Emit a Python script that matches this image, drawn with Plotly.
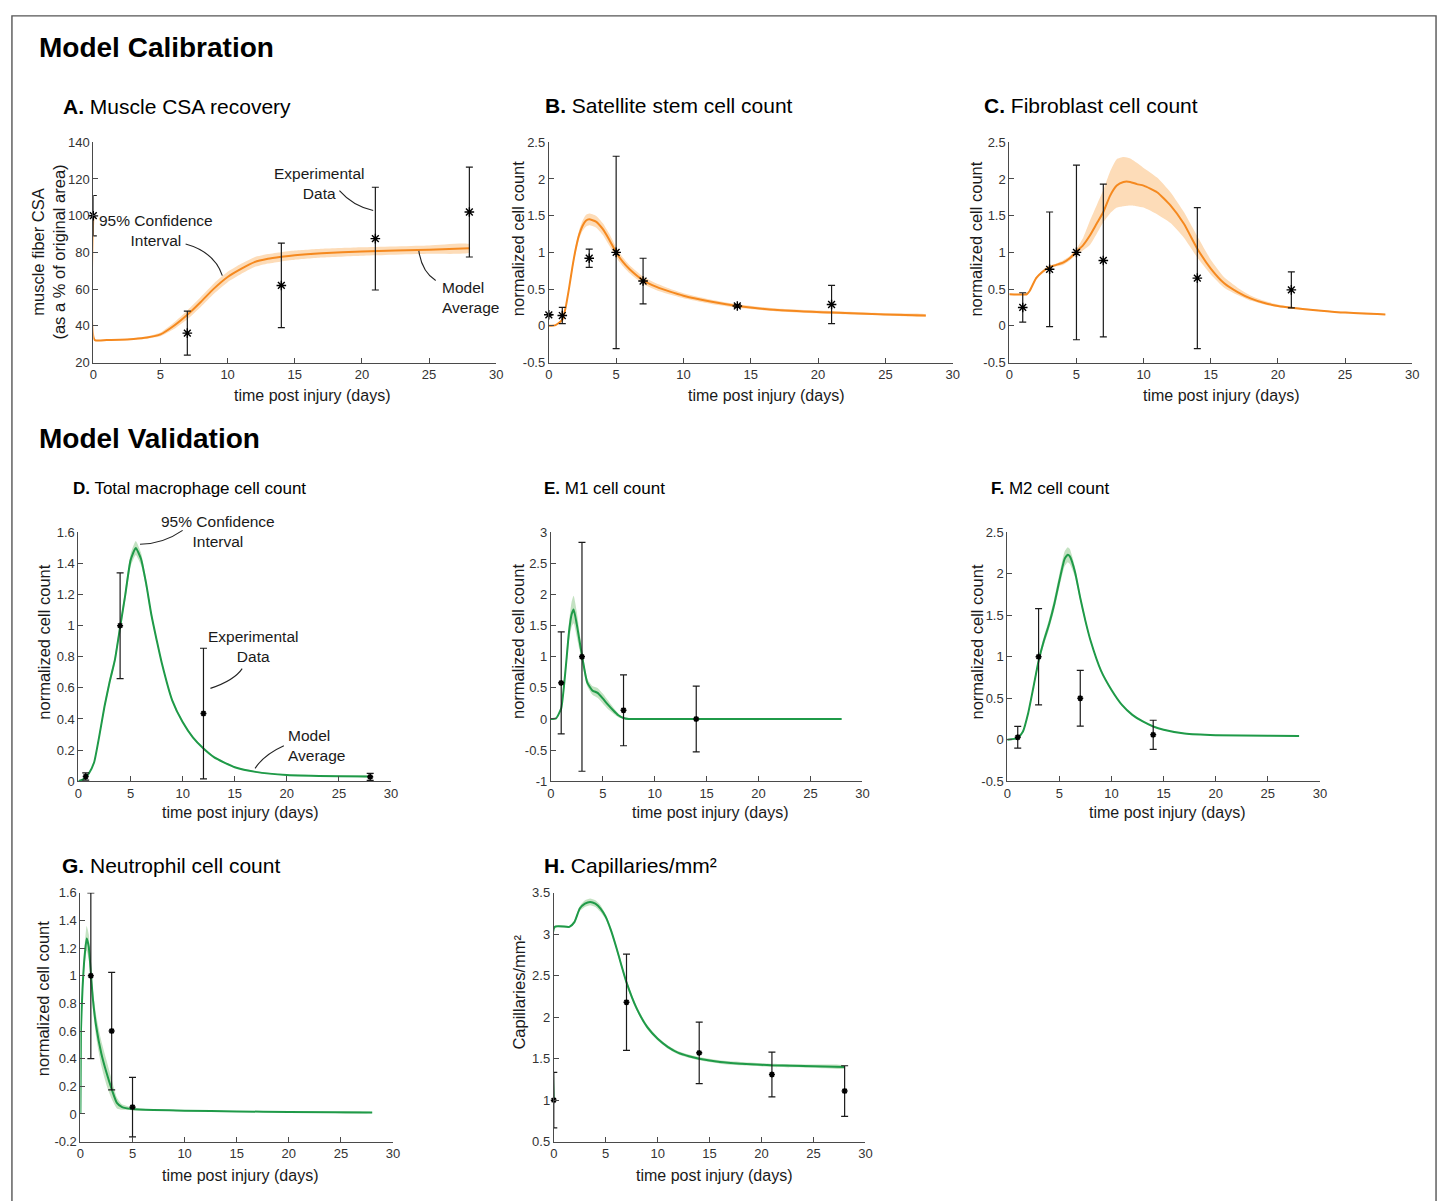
import plotly.graph_objects as go

# ======================= DATA =======================
x_ticks = [0, 5, 10, 15, 20, 25, 30]

# ---- A. Muscle CSA recovery ----
tA = [0, 0.1, 1, 2, 3, 4, 5, 6, 7, 8, 9, 10, 11, 12, 13, 14, 15, 17, 20, 25, 28]
yA = [100, 32.3, 32.3, 32.4, 32.8, 33.6, 35.3, 40, 46, 53, 60.4, 66.6, 71, 74.7, 76.5, 77.6, 78.5, 79.6, 80.5, 81.5, 82.2]
ciA = [0.3, 0.3, 0.3, 0.3, 0.4, 0.6, 1.0, 1.8, 2.4, 2.7, 2.8, 2.8, 2.8, 2.7, 2.6, 2.5, 2.5, 2.4, 2.3, 2.3, 2.3]
dA_t = [0, 7, 14, 21, 28]
dA_y = [100, 36, 62, 87.5, 102]
dA_e = [11, 12, 23, 28, 24.5]
yA_ticks = [20, 40, 60, 80, 100, 120, 140]

# ---- B. Satellite stem cell count ----
tB = [0, 0.5, 1, 1.25, 1.5, 1.75, 2, 2.25, 2.5, 2.75, 3, 3.5, 4, 4.5, 5, 5.5, 6, 7, 8, 9, 10, 12, 14, 17, 21, 25, 28]
yB = [0.0, 0.01, 0.08, 0.25, 0.51, 0.8, 1.05, 1.24, 1.36, 1.43, 1.45, 1.42, 1.32, 1.17, 1.0, 0.87, 0.77, 0.62, 0.53, 0.465, 0.41, 0.33, 0.27, 0.215, 0.18, 0.155, 0.14]
ciB = [0.005, 0.005, 0.01, 0.02, 0.03, 0.04, 0.05, 0.06, 0.07, 0.08, 0.08, 0.08, 0.08, 0.08, 0.07, 0.06, 0.055, 0.05, 0.045, 0.04, 0.035, 0.03, 0.025, 0.02, 0.02, 0.015, 0.015]
dB_t = [0, 1, 3, 5, 7, 14, 21]
dB_y = [0.15, 0.14, 0.92, 1.0, 0.61, 0.27, 0.29]
dB_e = [0.005, 0.11, 0.125, 1.31, 0.31, 0.02, 0.26]
yB_ticks = [-0.5, 0, 0.5, 1, 1.5, 2, 2.5]

# ---- C. Fibroblast cell count ----
tC = [0, 1.3, 1.5, 2, 2.5, 3, 3.5, 4, 4.5, 5, 5.5, 6, 6.5, 7, 7.5, 8, 8.5, 9, 9.5, 10, 11, 12, 13, 14, 15, 16, 17, 18, 19, 20, 21, 23, 25, 28]
yC = [0.43, 0.43, 0.47, 0.65, 0.74, 0.80, 0.83, 0.86, 0.92, 1.01, 1.10, 1.23, 1.39, 1.55, 1.77, 1.91, 1.96, 1.96, 1.93, 1.91, 1.82, 1.64, 1.39, 1.05, 0.78, 0.58, 0.46, 0.37, 0.31, 0.27, 0.245, 0.21, 0.18, 0.155]
hiC = [0.44, 0.44, 0.48, 0.67, 0.76, 0.82, 0.85, 0.89, 0.95, 1.05, 1.20, 1.43, 1.64, 1.85, 2.10, 2.27, 2.30, 2.28, 2.22, 2.15, 2.02, 1.82, 1.55, 1.22, 0.90, 0.66, 0.52, 0.41, 0.34, 0.29, 0.26, 0.22, 0.19, 0.16]
loC = [0.42, 0.42, 0.46, 0.63, 0.72, 0.78, 0.81, 0.83, 0.89, 0.97, 1.03, 1.10, 1.25, 1.41, 1.53, 1.61, 1.63, 1.64, 1.63, 1.61, 1.52, 1.40, 1.20, 0.93, 0.70, 0.52, 0.42, 0.34, 0.29, 0.255, 0.235, 0.20, 0.17, 0.15]
dC_t = [1, 3, 5, 7, 14, 21]
dC_y = [0.25, 0.77, 1.0, 0.89, 0.65, 0.49]
dC_e = [0.20, 0.78, 1.19, 1.04, 0.96, 0.245]
yC_ticks = [-0.5, 0, 0.5, 1, 1.5, 2, 2.5]

# ---- D. Total macrophage cell count ----
tD = [0, 0.5, 1, 1.5, 2, 2.5, 3, 3.5, 4, 4.5, 5, 5.5, 6, 6.5, 7, 7.5, 8, 9, 10, 11, 12, 13, 14, 15, 17, 20, 25, 28]
yD = [0, 0.013, 0.05, 0.12, 0.29, 0.48, 0.64, 0.78, 0.99, 1.2, 1.42, 1.50, 1.43, 1.27, 1.07, 0.91, 0.76, 0.52, 0.38, 0.28, 0.21, 0.155, 0.12, 0.09, 0.06, 0.04, 0.032, 0.03]
ciD = [0.002, 0.003, 0.005, 0.008, 0.015, 0.02, 0.025, 0.025, 0.03, 0.035, 0.04, 0.045, 0.04, 0.03, 0.02, 0.015, 0.012, 0.01, 0.008, 0.007, 0.006, 0.005, 0.005, 0.004, 0.004, 0.004, 0.004, 0.004]
dD_t = [0.7, 4, 12, 28]
dD_y = [0.03, 1.0, 0.435, 0.028]
dD_e = [0.023, 0.34, 0.42, 0.022]
yD_ticks = [0, 0.2, 0.4, 0.6, 0.8, 1, 1.2, 1.4, 1.6]

# ---- E. M1 cell count ----
tE = [0, 0.5, 1, 1.25, 1.5, 1.75, 2, 2.2, 2.5, 2.75, 3, 3.5, 4, 4.5, 5, 5.5, 6, 6.5, 7, 7.5, 10, 14, 20, 28]
yE = [0, 0.01, 0.17, 0.5, 0.94, 1.4, 1.68, 1.76, 1.52, 1.27, 1.02, 0.59, 0.46, 0.42, 0.33, 0.23, 0.14, 0.06, 0.016, 0.0, 0.0, 0.0, 0.0, 0.0]
ciE = [0, 0.005, 0.02, 0.06, 0.1, 0.15, 0.2, 0.22, 0.2, 0.15, 0.1, 0.06, 0.07, 0.08, 0.08, 0.07, 0.05, 0.03, 0.01, 0.005, 0.003, 0.003, 0.003, 0.003]
dE_t = [1, 3, 7, 14]
dE_y = [0.58, 1.0, 0.14, 0.0]
dE_e = [0.82, 1.84, 0.57, 0.53]
yE_ticks = [-1, -0.5, 0, 0.5, 1, 1.5, 2, 2.5, 3]

# ---- F. M2 cell count ----
tF = [0, 1, 1.5, 2, 2.5, 3, 3.5, 4, 4.5, 5, 5.5, 5.8, 6, 6.5, 7, 7.5, 8, 9, 10, 11, 12, 13, 14, 15, 17, 20, 25, 28]
yF = [0, 0.02, 0.10, 0.32, 0.63, 0.95, 1.19, 1.39, 1.63, 1.92, 2.18, 2.23, 2.21, 2.02, 1.71, 1.43, 1.19, 0.83, 0.60, 0.42, 0.30, 0.22, 0.16, 0.12, 0.075, 0.055, 0.048, 0.045]
ciF = [0, 0.005, 0.01, 0.02, 0.03, 0.04, 0.05, 0.06, 0.07, 0.08, 0.09, 0.09, 0.09, 0.06, 0.04, 0.03, 0.02, 0.015, 0.012, 0.01, 0.008, 0.007, 0.006, 0.005, 0.005, 0.004, 0.004, 0.004]
dF_t = [1, 3, 7, 14]
dF_y = [0.03, 1.0, 0.5, 0.06]
dF_e = [0.13, 0.58, 0.335, 0.175]
yF_ticks = [-0.5, 0, 0.5, 1, 1.5, 2, 2.5]

# ---- G. Neutrophil cell count ----
tG = [0, 0.05, 0.2, 0.4, 0.6, 0.8, 1, 1.2, 1.5, 2, 2.5, 3, 3.5, 4, 5, 7, 10, 15, 20, 28]
yG = [0, 0.6, 0.9, 1.14, 1.27, 1.21, 1.02, 0.83, 0.64, 0.44, 0.30, 0.18, 0.08, 0.05, 0.036, 0.029, 0.024, 0.019, 0.014, 0.01]
ciG = [0, 0.03, 0.05, 0.07, 0.09, 0.09, 0.07, 0.07, 0.08, 0.09, 0.09, 0.07, 0.04, 0.02, 0.01, 0.005, 0.004, 0.003, 0.003, 0.003]
dG_t = [1, 3, 5]
dG_y = [1.0, 0.6, 0.05]
dG_e = [0.6, 0.425, 0.215]
yG_ticks = [-0.2, 0, 0.2, 0.4, 0.6, 0.8, 1, 1.2, 1.4, 1.6]

# ---- H. Capillaries/mm² ----
tH = [0, 0.1, 1.5, 2, 2.5, 3, 3.5, 4, 4.5, 5, 5.5, 6, 6.5, 7, 8, 9, 10, 11, 12, 13, 14, 16, 18, 21, 25, 28]
yH = [1.0, 3.09, 3.09, 3.15, 3.31, 3.37, 3.39, 3.37, 3.31, 3.21, 3.05, 2.85, 2.63, 2.42, 2.10, 1.88, 1.74, 1.64, 1.57, 1.53, 1.50, 1.46, 1.44, 1.42, 1.41, 1.40]
ciH = [0, 0.01, 0.01, 0.02, 0.03, 0.04, 0.04, 0.04, 0.04, 0.03, 0.03, 0.03, 0.03, 0.03, 0.025, 0.025, 0.02, 0.02, 0.02, 0.02, 0.02, 0.02, 0.02, 0.02, 0.02, 0.02]
dH_t = [0, 7, 14, 21, 28]
dH_y = [1.0, 2.18, 1.57, 1.31, 1.11]
dH_e = [0.335, 0.58, 0.37, 0.27, 0.305]
yH_ticks = [0.5, 1, 1.5, 2, 2.5, 3, 3.5]

# ======================= STYLE / LAYOUT =======================
W, H = 1448, 1201
FONT = "Liberation Sans, Arial, Helvetica, sans-serif"
ORANGE, ORANGE_BAND = "#F5891F", "#FDDCB8"
GREEN, GREEN_BAND = "#1F9A48", "#C4E2C2"
AX = "#4a4a4a"
TXT = "#1a1a1a"


def fx(p):
    return p / W


def fy(p):
    return 1 - p / H


def lohi(y, ci):
    return [a - b for a, b in zip(y, ci)], [a + b for a, b in zip(y, ci)]


panels = [
    dict(title="<b>A.</b> Muscle CSA recovery", tsize=21, tpos=(57, 101), dom=(90, 496, 137, 360),
         t=tA, y=yA, band=lohi(yA, ciA), dt=dA_t, dy=dA_y, de=dA_e, yt=yA_ticks,
         c=ORANGE, cb=ORANGE_BAND, ytitle="muscle fiber CSA<br>(as a % of original area)",
         ytpos=(45, 248), xtpos=(311, 393), big=True),
    dict(title="<b>B.</b> Satellite stem cell count", tsize=21, tpos=(543, 100), dom=(549, 956, 137, 360),
         t=tB, y=yB, band=lohi(yB, ciB), dt=dB_t, dy=dB_y, de=dB_e, yt=yB_ticks,
         c=ORANGE, cb=ORANGE_BAND, ytitle="normalized cell count",
         ytpos=(518, 235), xtpos=(768, 393), big=True),
    dict(title="<b>C.</b> Fibroblast cell count", tsize=21, tpos=(985, 100), dom=(1013, 1419, 137, 360),
         t=tC, y=yC, band=(loC, hiC), dt=dC_t, dy=dC_y, de=dC_e, yt=yC_ticks,
         c=ORANGE, cb=ORANGE_BAND, ytitle="normalized cell count",
         ytpos=(980, 235), xtpos=(1227, 393), big=True),
    dict(title="<b>D.</b> Total macrophage cell count", tsize=17, tpos=(68, 488), dom=(75, 390, 532, 784),
         t=tD, y=yD, band=lohi(yD, ciD), dt=dD_t, dy=dD_y, de=dD_e, yt=yD_ticks,
         c=GREEN, cb=GREEN_BAND, ytitle="normalized cell count",
         ytpos=(40, 643), xtpos=(238, 816), big=False),
    dict(title="<b>E.</b> M1 cell count", tsize=17, tpos=(542, 488), dom=(551, 865, 532, 784),
         t=tE, y=yE, band=lohi(yE, ciE), dt=dE_t, dy=dE_y, de=dE_e, yt=yE_ticks,
         c=GREEN, cb=GREEN_BAND, ytitle="normalized cell count",
         ytpos=(518, 643), xtpos=(712, 816), big=False),
    dict(title="<b>F.</b> M2 cell count", tsize=17, tpos=(993, 488), dom=(1011, 1326, 532, 784),
         t=tF, y=yF, band=lohi(yF, ciF), dt=dF_t, dy=dF_y, de=dF_e, yt=yF_ticks,
         c=GREEN, cb=GREEN_BAND, ytitle="normalized cell count",
         ytpos=(980, 643), xtpos=(1172, 816), big=False),
    dict(title="<b>G.</b> Neutrophil cell count", tsize=21, tpos=(56, 869), dom=(77, 392, 897, 1149),
         t=tG, y=yG, band=lohi(yG, ciG), dt=dG_t, dy=dG_y, de=dG_e, yt=yG_ticks,
         c=GREEN, cb=GREEN_BAND, ytitle="normalized cell count",
         ytpos=(40, 1004), xtpos=(238, 1183), big=False),
    dict(title="<b>H.</b> Capillaries/mm²", tsize=21, tpos=(542, 869), dom=(554, 868, 897, 1149),
         t=tH, y=yH, band=lohi(yH, ciH), dt=dH_t, dy=dH_y, de=dH_e, yt=yH_ticks,
         c=GREEN, cb=GREEN_BAND, ytitle="Capillaries/mm²",
         ytpos=(518, 998), xtpos=(716, 1183), big=False),
]

fig = go.Figure()
annotations = []
shapes = []
layout_axes = {}

for i, p in enumerate(panels, start=1):
    xa = "x" if i == 1 else f"x{i}"
    ya = "y" if i == 1 else f"y{i}"
    lo, hi = p["band"]
    # confidence band
    fig.add_trace(go.Scatter(x=p["t"] + p["t"][::-1], y=hi + lo[::-1], fill="toself",
                             fillcolor=p["cb"], line=dict(width=0, shape="spline", smoothing=0.5),
                             mode="lines", xaxis=xa, yaxis=ya, showlegend=False, hoverinfo="skip"))
    # model average
    fig.add_trace(go.Scatter(x=p["t"], y=p["y"], mode="lines",
                             line=dict(color=p["c"], width=2, shape="spline", smoothing=0.5),
                             xaxis=xa, yaxis=ya, showlegend=False, hoverinfo="skip"))
    # experimental data
    fig.add_trace(go.Scatter(x=p["dt"], y=p["dy"], mode="markers",
                             marker=dict(symbol="asterisk-open", size=8 if p["big"] else 5, color="black",
                                         line=dict(width=1.4 if p["big"] else 1.6, color="black")),
                             error_y=dict(type="data", array=p["de"], symmetric=True, color="#1a1a1a",
                                          thickness=1.2, width=3.5),
                             cliponaxis=False, xaxis=xa, yaxis=ya, showlegend=False, hoverinfo="skip"))

    x0, x1, y0, y1 = p["dom"]
    common = dict(showline=True, linecolor=AX, linewidth=1, ticks="inside", ticklen=5, tickwidth=1,
                  tickcolor=AX, showgrid=False, zeroline=False, mirror=False, fixedrange=True,
                  tickfont=dict(family=FONT, size=13, color="#333333"))
    yt = p["yt"]
    layout_axes["xaxis" if i == 1 else f"xaxis{i}"] = dict(
        domain=[fx(x0), fx(x1)], anchor=ya, range=[0, 30], tickvals=x_ticks,
        ticktext=[f"{v:g}" for v in x_ticks], **common)
    layout_axes["yaxis" if i == 1 else f"yaxis{i}"] = dict(
        domain=[fy(y1), fy(y0)], anchor=xa, range=[yt[0], yt[-1]], tickvals=yt,
        ticktext=[f"{v:g}" for v in yt], **common)

    # panel title
    annotations.append(dict(x=fx(p["tpos"][0]), y=fy(p["tpos"][1]), xref="paper", yref="paper",
                            text=p["title"], showarrow=False, xanchor="left", yanchor="middle",
                            font=dict(family=FONT, size=p["tsize"], color="black")))
    # axis titles
    annotations.append(dict(x=fx(p["xtpos"][0]), y=fy(p["xtpos"][1]), xref="paper", yref="paper",
                            text="time post injury (days)", showarrow=False, xanchor="center",
                            yanchor="middle", font=dict(family=FONT, size=16, color=TXT)))
    annotations.append(dict(x=fx(p["ytpos"][0]), y=fy(p["ytpos"][1]), xref="paper", yref="paper",
                            text=p["ytitle"], showarrow=False, xanchor="center", yanchor="middle",
                            textangle=-90, font=dict(family=FONT, size=16.5, color=TXT)))

# section headings
for txt, yy in [("Model Calibration", 41), ("Model Validation", 437)]:
    annotations.append(dict(x=fx(33), y=fy(yy), xref="paper", yref="paper", text=f"<b>{txt}</b>",
                            showarrow=False, xanchor="left", yanchor="middle",
                            font=dict(family=FONT, size=28, color="black")))

# callout labels
labels = [
    ("95% Confidence<br>Interval", 153, 226, "center"),
    ("Experimental<br>Data", 317, 179, "center"),
    ("Model<br>Average", 439, 294.5, "left"),
    ("95% Confidence<br>Interval", 216, 531, "center"),
    ("Experimental<br>Data", 251, 648, "center"),
    ("Model<br>Average", 284, 747.5, "left"),
]
for txt, xx, yy, al in labels:
    annotations.append(dict(x=fx(xx), y=fy(yy), xref="paper", yref="paper", text=txt, showarrow=False,
                            xanchor=al, yanchor="middle", align=al,
                            font=dict(family=FONT, size=15.5, color=TXT)))

# curved leader lines
leaders = [
    ((183, 240), (212, 248), (220, 272)),
    ((338, 186), (352, 202), (372, 206)),
    ((418, 247), (421, 268), (435, 277)),
    ((137, 544), (160, 544), (180, 530)),
    ((208, 690), (232, 682), (240, 670)),
    ((253, 771), (262, 757), (282, 748)),
]
for a, c, b in leaders:
    shapes.append(dict(type="path", xref="paper", yref="paper",
                       path=f"M {fx(a[0])},{fy(a[1])} Q {fx(c[0])},{fy(c[1])} {fx(b[0])},{fy(b[1])}",
                       line=dict(color="#222222", width=1.1)))

# outer frame
shapes.append(dict(type="rect", xref="paper", yref="paper", x0=fx(8), x1=fx(1443), y0=fy(1215), y1=fy(9),
                   line=dict(color="#555555", width=1.4), fillcolor="rgba(0,0,0,0)"))

fig.update_layout(width=W, height=H, margin=dict(l=0, r=0, t=0, b=0), paper_bgcolor="white",
                  plot_bgcolor="white", hovermode=False, showlegend=False,
                  annotations=annotations, shapes=shapes, font=dict(family=FONT), **layout_axes)

fig.write_html("out.html", config={"displayModeBar": False})
